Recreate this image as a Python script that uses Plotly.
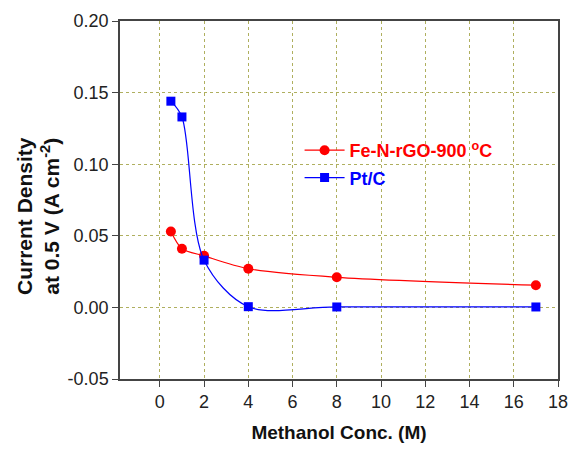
import plotly.graph_objects as go

x_fe = [0.5, 1, 2, 4, 8, 17]
y_fe = [0.053, 0.041, 0.036, 0.027, 0.021, 0.0155]
x_pt = [0.5, 1, 2, 4, 8, 17]
y_pt = [0.144, 0.133, 0.033, 0.0005, 0.0003, 0.0003]
x_ticks = list(range(0, 19, 2))
y_ticks = [-0.05, 0.0, 0.05, 0.10, 0.15, 0.20]
y_ticktext = ["-0.05", "0.00", "0.05", "0.10", "0.15", "0.20"]

fig = go.Figure()
fig.add_trace(go.Scatter(
    x=x_fe, y=y_fe, mode="lines+markers", legendgroup="fe",
    name="<b><span style='color:#ff0000'>Fe-N-rGO-900 <sup>o</sup>C</span></b>",
    line=dict(color="#ff0000", width=1.2, shape="spline", smoothing=0.8),
    marker=dict(symbol="circle", size=10, color="#ff0000"),
))
fig.add_trace(go.Scatter(
    x=x_pt, y=y_pt, mode="lines+markers", legendgroup="pt",
    name="<b><span style='color:#0000ff'>Pt/C</span></b>",
    line=dict(color="#0000ff", width=1.2, shape="spline", smoothing=0.9),
    marker=dict(symbol="square", size=9, color="#0000ff"),
))

grid = "rgb(175,175,95)"
fig.update_layout(
    width=579, height=454,
    margin=dict(l=120, r=11, t=17, b=75),
    paper_bgcolor="white", plot_bgcolor="white",
    font=dict(family="Arial, Liberation Sans", size=18, color="#222"),
    legend=dict(x=0.41, y=0.69, xanchor="left", yanchor="top",
                bgcolor="rgba(0,0,0,0)", font=dict(size=18),
                itemwidth=40, tracegroupgap=1),
    xaxis=dict(
        range=[-1.8, 18], tickvals=x_ticks,
        showline=True, linecolor="#444", linewidth=1.5, mirror=True,
        ticks="outside", ticklen=6, tickcolor="#444",
        showgrid=True, gridcolor=grid, griddash="dot", gridwidth=1,
        zeroline=False,
        title=dict(text="<b>Methanol Conc. (M)</b>", font=dict(size=19, color="#111"), standoff=14),
    ),
    yaxis=dict(
        range=[-0.05, 0.2], tickvals=y_ticks, ticktext=y_ticktext,
        showline=True, linecolor="#444", linewidth=1.5, mirror=True,
        ticks="outside", ticklen=6, tickcolor="#444",
        showgrid=True, gridcolor=grid, griddash="dot", gridwidth=1,
        zeroline=False,
    ),
    annotations=[dict(
        text="<b>Current Density<br>at 0.5 V (A cm<sup>-2</sup>)</b>",
        textangle=-90, xref="paper", yref="paper", x=-0.1875, y=0.455,
        xanchor="center", yanchor="middle", showarrow=False,
        font=dict(size=21, color="#111"),
    )],
)
fig.write_html("out.html")
